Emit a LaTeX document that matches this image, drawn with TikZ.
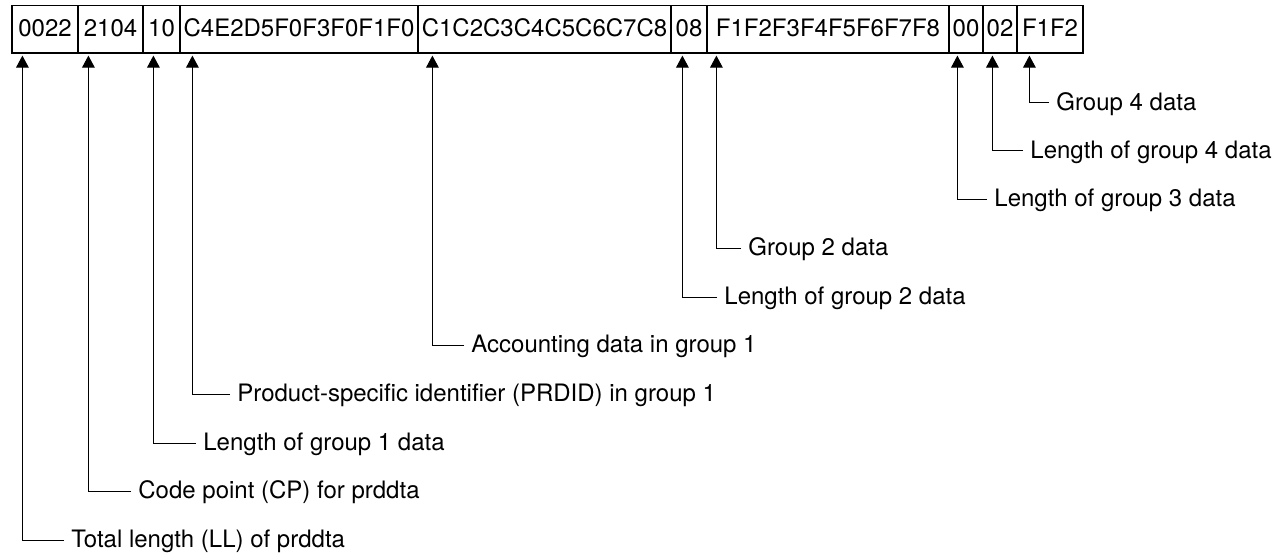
\documentclass[tikz,border=0pt]{standalone}
\usepackage{fontspec}
\setmainfont{TeX Gyre Heros}
\usetikzlibrary{arrows.meta,calc}

\begin{document}
\begin{tikzpicture}[x=0.5pt,y=0.5pt,yscale=-1,xscale=1,
  cell/.style={draw,line width=0.6pt,minimum height=23.75pt,inner sep=0pt,text height=0.72em,text depth=0pt,font=\fontsize{12}{14}\selectfont},
  note/.style={anchor=west,inner sep=3.5pt,text height=0.72em,text depth=0pt,font=\fontsize{12}{14}\selectfont},
  ptr/.style={line width=0.5pt,-{Triangle[length=6pt,width=6.3pt]}}]
\useasboundingbox (0,0) rectangle (1285,556);
% Record cells
\node [cell,minimum width=33pt] (ll) at (45,29.25) {0022};
\node [cell,minimum width=32.5pt] (cp) at (110.5,29.25) {2104};
\node [cell,minimum width=18.5pt] (len1) at (161.5,29.25) {10};
\node [cell,minimum width=119pt] (prdid) at (299,29.25) {C4E2D5F0F3F0F1F0};
\node [cell,minimum width=126.5pt] (acct) at (544.5,29.25) {C1C2C3C4C5C6C7C8};
\node [cell,minimum width=18pt] (len2) at (689,29.25) {08};
\node [cell,minimum width=121pt] (grp2) at (828,29.25) {F1F2F3F4F5F6F7F8};
\node [cell,minimum width=17pt] (len3) at (966,29.25) {00};
\node [cell,minimum width=17pt] (len4) at (1000,29.25) {02};
\node [cell,minimum width=33pt] (grp4) at (1050,29.25) {F1F2};
% Text Node
\node [note] (tgrp4) at (1049,103) {Group 4 data};
\node [note] (tlen4) at (1023,151) {Length of group 4 data};
\node [note] (tlen3) at (987,199) {Length of group 3 data};
\node [note] (tgrp2) at (741,248) {Group 2 data};
\node [note] (tlen2) at (717,297) {Length of group 2 data};
\node [note] (tacct) at (464,345.5) {Accounting data in group 1};
\node [note] (tprdid) at (230,394) {Product-specific identifier (PRDID) in group 1};
\node [note] (tlen1) at (196,443) {Length of group 1 data};
\node [note] (tcp) at (131,491) {Code point (CP) for prddta};
\node [note] (tll) at (64,540) {Total length (LL) of prddta};
% Pointers
\draw [ptr] (tgrp4.west) -| ($(grp4.south west)+(13,2)$);
\draw [ptr] (tlen4.west) -| ($(len4.south west)+(10,2)$);
\draw [ptr] (tlen3.west) -| ($(len3.south west)+(9,2)$);
\draw [ptr] (tgrp2.west) -| ($(grp2.south west)+(10,2)$);
\draw [ptr] (tlen2.west) -| ($(len2.south west)+(12,2)$);
\draw [ptr] (tacct.west) -| ($(acct.south west)+(15,2)$);
\draw [ptr] (tprdid.west) -| ($(prdid.south west)+(13,2)$);
\draw [ptr] (tlen1.west) -| ($(len1.south west)+(11,2)$);
\draw [ptr] (tcp.west) -| ($(cp.south west)+(11,2)$);
\draw [ptr] (tll.west) -| ($(ll.south west)+(11,2)$);
\end{tikzpicture}
\end{document}
